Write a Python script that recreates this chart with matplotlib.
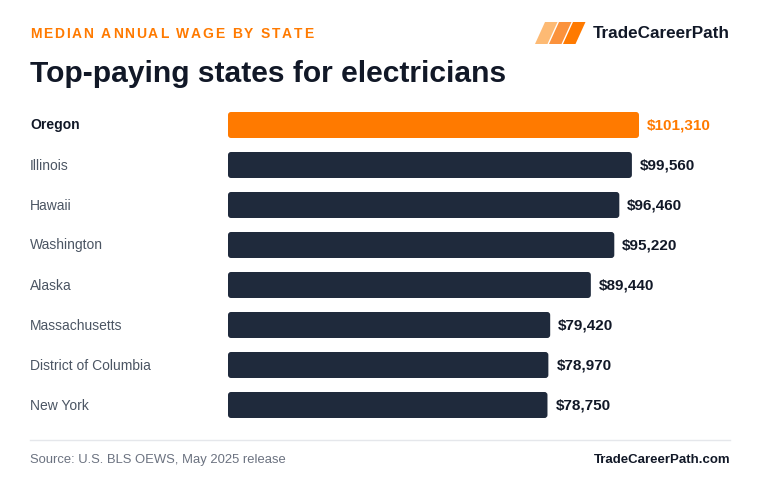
import matplotlib.pyplot as plt
from matplotlib.patches import FancyBboxPatch, Polygon
from matplotlib.lines import Line2D

# --- data ---
states = ["Oregon", "Illinois", "Hawaii", "Washington", "Alaska",
          "Massachusetts", "District of Columbia", "New York"]
wages = [101310, 99560, 96460, 95220, 89440, 79420, 78970, 78750]
highlight = "Oregon"

ORANGE = "#FF7A00"
NAVY = "#1F2A3C"
DARK = "#111827"
GRAY = "#4B5563"
LIGHTGRAY = "#6B7280"

plt.rcParams["font.family"] = ["Liberation Sans", "DejaVu Sans"]

W, H = 760, 496
fig = plt.figure(figsize=(W / 100, H / 100), dpi=100)


def fx(x):
    return x / W


def fy(y):
    return 1 - y / H


# axes: bars start at x=228, rows 40px apart starting at y=105
ax_left, ax_right = 228, 728
ax_top, ax_bot = 105, 425
ax = fig.add_axes([fx(ax_left), fy(ax_bot), (ax_right - ax_left) / W, (ax_bot - ax_top) / H])
px_per_dollar = 411 / 101310
xmax = (ax_right - ax_left) / px_per_dollar
ax.set_xlim(0, xmax)
ax.set_ylim(len(states) - 0.5, -0.5)
ax.axis("off")

bar_h = 26 / 40
r_x = 3 / px_per_dollar
r_y = 3 / 40
for i, (s, w) in enumerate(zip(states, wages)):
    col = ORANGE if s == highlight else NAVY
    box = FancyBboxPatch((0, i - bar_h / 2), w, bar_h,
                         boxstyle=f"round,pad=0,rounding_size={r_x}",
                         mutation_aspect=r_y / r_x,
                         facecolor=col, edgecolor="none")
    ax.add_patch(box)
    ax.text(w + 8 / px_per_dollar, i, f"${w:,}", va="center", ha="left",
            fontsize=11, fontweight="bold", color=ORANGE if s == highlight else DARK)
    fig.text(fx(30), fy(ax_top + 20.5 + 40 * i), s, va="center", ha="left",
             fontsize=10,
             fontweight="bold" if s == highlight else "normal",
             color=DARK if s == highlight else GRAY)

# --- header ---
fig.canvas.draw()
renderer = fig.canvas.get_renderer()
sub = "MEDIAN ANNUAL WAGE BY STATE"
x = 30
for ch in sub:
    t = fig.text(fx(x), fy(34.5), ch, fontsize=10, fontweight="bold",
                 color=ORANGE, va="center", ha="left")
    if ch == " ":
        adv = 4.0
    else:
        adv = t.get_window_extent(renderer).width
    x += adv + 1.8

fig.text(fx(30), fy(74), "Top-paying states for electricians", fontsize=21.6,
         fontweight="bold", color=DARK, va="center", ha="left")

# logo stripes
stripe_cols = ["#FDBA74", "#FB923C", ORANGE]
for k, c in enumerate(stripe_cols):
    x0 = 535 + 14 * k
    pts = [(x0, 44), (x0 + 12.5, 44), (x0 + 12.5 + 10, 22), (x0 + 10, 22)]
    fig.add_artist(Polygon([(fx(a), fy(b)) for a, b in pts], closed=True,
                           transform=fig.transFigure, facecolor=c, edgecolor="none"))
fig.text(fx(730), fy(33), "TradeCareerPath", fontsize=12.3, fontweight="bold",
         color=DARK, va="center", ha="right")

# --- footer ---
fig.add_artist(Line2D([fx(30), fx(730)], [fy(440), fy(440)], color="#E5E7EB",
                      lw=1, transform=fig.transFigure))
fig.text(fx(30), fy(460), "Source: U.S. BLS OEWS, May 2025 release", fontsize=9.35,
         color=LIGHTGRAY, va="center", ha="left")
fig.text(fx(730), fy(460), "TradeCareerPath.com", fontsize=9.5, fontweight="bold",
         color=DARK, va="center", ha="right")

fig.savefig("out.png", dpi=100, facecolor="white")
